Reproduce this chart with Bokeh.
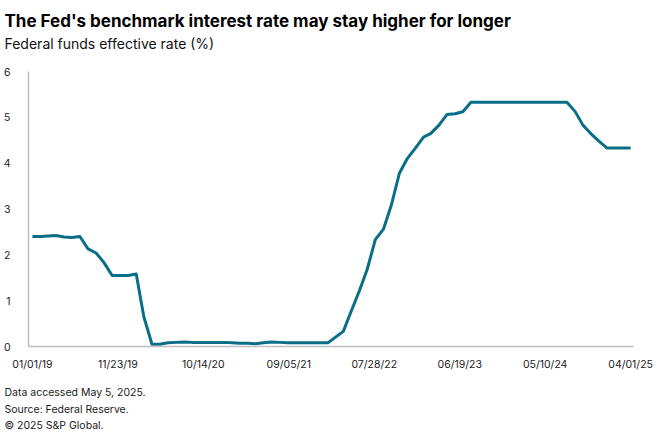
import pandas as pd
from bokeh.plotting import figure
from bokeh.layouts import column
from bokeh.models import Range1d, FixedTicker, ColumnDataSource, CustomJSTickFormatter
from bokeh.core.properties import value
from bokeh.embed import file_html
from bokeh.resources import INLINE

# ---- data ----
start_month = "2019-01-01"
rates = [
    # 2019
    2.40, 2.40, 2.41, 2.42, 2.39, 2.38, 2.40, 2.13, 2.04, 1.83, 1.55, 1.55,
    # 2020
    1.55, 1.58, 0.65, 0.05, 0.05, 0.08, 0.09, 0.10, 0.09, 0.09, 0.09, 0.09,
    # 2021
    0.09, 0.08, 0.07, 0.07, 0.06, 0.08, 0.10, 0.09, 0.08, 0.08, 0.08, 0.08,
    # 2022
    0.08, 0.08, 0.20, 0.33, 0.77, 1.21, 1.68, 2.33, 2.56, 3.08, 3.78, 4.10,
    # 2023
    4.33, 4.57, 4.65, 4.83, 5.06, 5.08, 5.12, 5.33, 5.33, 5.33, 5.33, 5.33,
    # 2024
    5.33, 5.33, 5.33, 5.33, 5.33, 5.33, 5.33, 5.33, 5.13, 4.83, 4.64, 4.48,
    # 2025
    4.33, 4.33, 4.33, 4.33,
]
dates = pd.date_range(start_month, periods=len(rates), freq="MS")
tick_labels = ["01/01/19", "11/23/19", "10/14/20", "09/05/21",
               "07/28/22", "06/19/23", "05/10/24", "04/01/25"]
y_ticks = [0, 1, 2, 3, 4, 5, 6]

title_text = "The Fed's benchmark interest rate may stay higher for longer"
subtitle_text = "Federal funds effective rate (%)"
footer_lines = ["Data accessed May 5, 2025.", "Source: Federal Reserve.", "\u00a9 2025 S&P Global."]

FONT = "Inter"
W = 660
HEAD_H, MAIN_H, FOOT_H = 64, 311, 65


def text_panel(h):
    f = figure(width=W, height=h, x_range=Range1d(0, W), y_range=Range1d(0, h),
               x_axis_location=None, y_axis_location=None,
               output_backend="svg", toolbar_location=None, title=None,
               min_border=0, min_border_left=0, min_border_right=0,
               min_border_top=0, min_border_bottom=0)
    f.frame_align = False
    f.grid.visible = False
    f.outline_line_color = None
    f.background_fill_color = "white"
    f.border_fill_color = "white"
    return f


# ---- header ----
head = text_panel(HEAD_H)
head.text(x=[4], y=[44], text=[title_text], text_font=value(FONT), text_font_style="bold",
          text_font_size="17px", text_color="#000000", text_baseline="middle", text_align="left")
head.text(x=[4], y=[21], text=[subtitle_text], text_font=value(FONT),
          text_font_size="14px", text_color="#111111", text_baseline="middle", text_align="left")

# ---- main chart ----
tick_dates = pd.to_datetime(tick_labels, format="%m/%d/%y")
tick_ms = [int(t.value // 10**6) for t in tick_dates]
x0 = tick_dates[0] - pd.Timedelta(days=15)
x1 = tick_dates[-1] + pd.Timedelta(days=11)

p = figure(width=W, height=MAIN_H, x_axis_type="datetime",
           min_border_left=27, min_border_right=27, min_border_top=7, min_border_bottom=29,
           x_range=Range1d(x0, x1), y_range=Range1d(0, 6),
           output_backend="svg", toolbar_location=None, title=None)
p.frame_align = False
p.outline_line_color = None
p.background_fill_color = "white"
p.border_fill_color = "white"
p.xgrid.visible = False
p.ygrid.visible = False

src = ColumnDataSource(dict(x=dates, y=rates))
p.line("x", "y", source=src, line_color="#0B6E88", line_width=3, line_join="round")

p.xaxis.ticker = FixedTicker(ticks=tick_ms)
labels_js = "{" + ",".join(f"{ms}: '{lab}'" for ms, lab in zip(tick_ms, tick_labels)) + "}"
p.xaxis.formatter = CustomJSTickFormatter(code=f"const m = {labels_js}; return m[tick] || '';")
p.yaxis.ticker = FixedTicker(ticks=y_ticks)
for ax in (p.xaxis, p.yaxis):
    ax.major_tick_line_color = None
    ax.minor_tick_line_color = None
    ax.axis_line_color = "#c0c0c0"
    ax.axis_line_width = 1.5
    ax.major_label_text_font = FONT
    ax.major_label_text_font_size = "10.5px"
    ax.major_label_text_color = "#222222"
p.yaxis.major_label_standoff = 12
p.xaxis.major_label_standoff = 5

# ---- footer ----
foot = text_panel(FOOT_H)
foot_y = [48, 31, 15]
foot.text(x=[4] * len(footer_lines), y=foot_y, text=footer_lines, text_font=value(FONT),
          text_font_size="10.5px", text_color="#222222", text_baseline="middle", text_align="left")

layout = column(head, p, foot, spacing=0)
open("out.html", "w").write(file_html(layout, INLINE))
